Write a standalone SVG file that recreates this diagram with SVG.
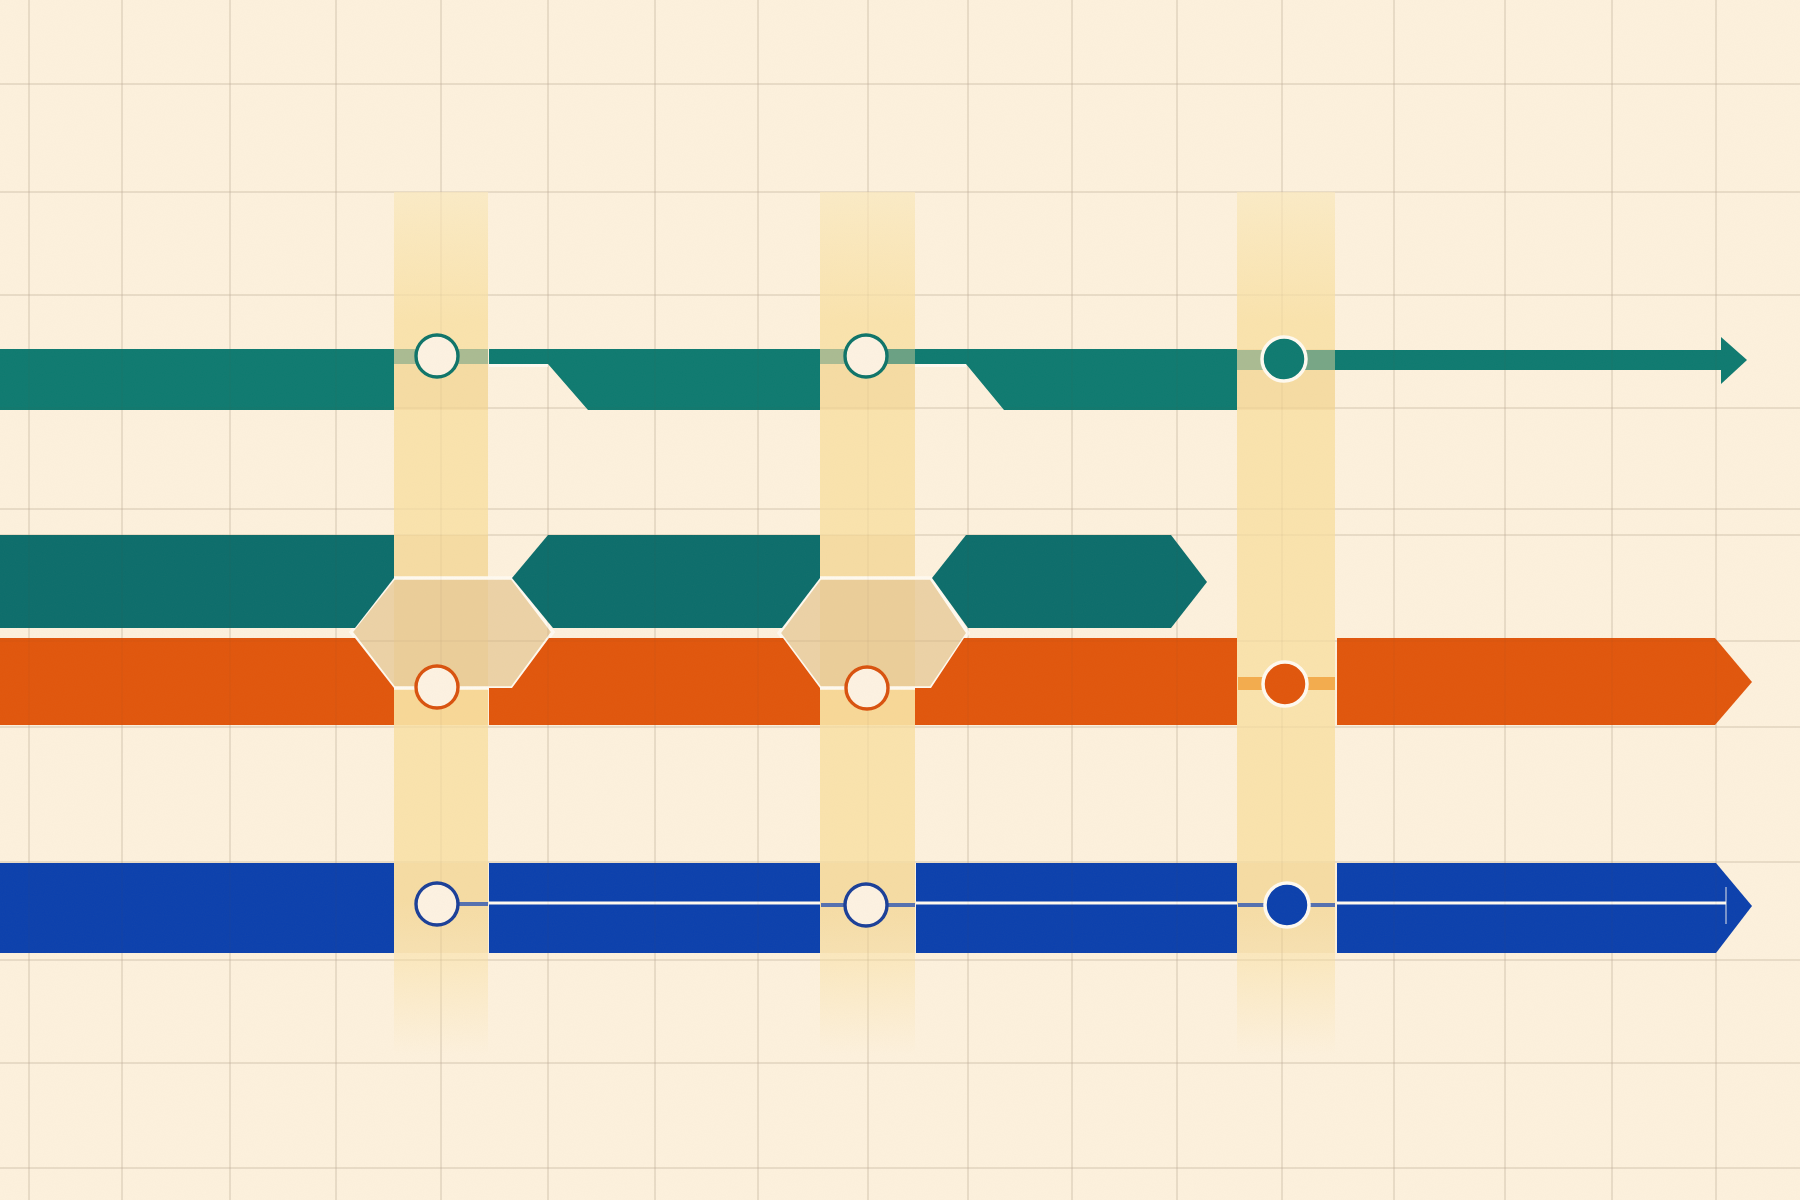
<svg xmlns="http://www.w3.org/2000/svg" width="1800" height="1200" viewBox="0 0 1800 1200">
<defs>
<style>
.grid{fill:none;stroke:#d6c8b4;stroke-width:1;opacity:0.75}
.gridTop{fill:none;stroke:#6b5a40;stroke-width:1;opacity:0.08}
.band{fill:url(#bandGrad)}
.ov{fill:#d9a24e;opacity:0.1}
.ovo{fill:#f6c066;opacity:0.3}
.teal{fill:#0e7a70}
.teal2{fill:#0c6d6b}
.orange{fill:#e1560c}
.blue{fill:#0b40ad}
.hex{fill:#e6c793;fill-opacity:0.75;stroke:#fffaf0;stroke-width:3.5;stroke-linejoin:miter}
.hollowT{fill:#fdf2e2;stroke:#0e7469;stroke-width:3.4}
.hollowO{fill:#fdf2e2;stroke:#d9520e;stroke-width:3.4}
.hollowB{fill:#fdf2e2;stroke:#1a3f98;stroke-width:3.4}
.solidT{fill:#0e7a70;stroke:#fffaf0;stroke-width:3.5}
.solidO{fill:#e1560c;stroke:#fffaf0;stroke-width:3.5}
.solidB{fill:#0b40ad;stroke:#fffaf0;stroke-width:3.5}
.wline{stroke:#fffaf0;stroke-width:3;fill:none}
.bline{stroke:#5470b0;stroke-width:4;fill:none}
</style>
<linearGradient id="bandGrad" x1="0" y1="192" x2="0" y2="1055" gradientUnits="userSpaceOnUse">
<stop offset="0" stop-color="#fbebc6"/>
<stop offset="0.15" stop-color="#fae3ad"/>
<stop offset="0.82" stop-color="#fae3ad"/>
<stop offset="1" stop-color="#fae3ad" stop-opacity="0"/>
</linearGradient>
<filter id="paper" x="0" y="0" width="100%" height="100%">
<feTurbulence type="fractalNoise" baseFrequency="0.9" numOctaves="2" seed="3" result="n"/>
<feColorMatrix type="matrix" values="0 0 0 0 0.45  0 0 0 0 0.38  0 0 0 0 0.28  0 0 0 0.04 0"/>
</filter>
<path id="gridPath" d="M29 0V1200M122 0V1200M230 0V1200M336 0V1200M441 0V1200M548 0V1200M655 0V1200M758 0V1200M868 0V1200M968 0V1200M1072 0V1200M1177 0V1200M1282 0V1200M1394 0V1200M1505 0V1200M1612 0V1200M1716 0V1200M0 84H1800M0 192H1800M0 295H1800M0 408H1800M0 509H1800M0 535H1800M0 641H1800M0 727H1800M0 862H1800M0 960H1800M0 1063H1800M0 1168H1800"/>
</defs>

<g id="background">
<rect x="0" y="0" width="1800" height="1200" fill="#fdf1dd"/>
<use href="#gridPath" class="grid"/>
</g>

<g id="bands">
<rect id="band1" class="band" x="394" y="192" width="94" height="863"/>
<rect id="band2" class="band" x="820" y="192" width="95" height="866"/>
<rect id="band3" class="band" x="1237" y="192" width="98" height="863"/>
<rect class="ov" x="394" y="349" width="94" height="61"/>
<rect class="ov" x="820" y="349" width="95" height="61"/>
<rect class="ov" x="1237" y="349" width="98" height="61"/>
<rect class="ov" x="394" y="535" width="94" height="43"/>
<rect class="ov" x="820" y="535" width="95" height="43"/>
<rect class="ovo" x="394" y="688" width="94" height="37"/>
<rect class="ovo" x="820" y="688" width="95" height="37"/>
<rect class="ov" x="394" y="863" width="94" height="90"/>
<rect class="ov" x="820" y="863" width="95" height="90"/>
<rect class="ov" x="1237" y="863" width="98" height="90"/>
</g>

<g id="hexes">
<polygon id="hex1" class="hex" points="351,632 394,578 512,578 553,632 512,688 394,688"/>
<polygon id="hex2" class="hex" points="779,633 820,578 931,578 968,633 931,688 820,688"/>
</g>

<g id="lane-teal-1">
<rect class="teal" x="0" y="349" width="394" height="61"/>
<polygon class="teal" points="489,349 820,349 820,410 588,410 548,364 489,364"/>
<polygon class="teal" points="915,349 1237,349 1237,410 1004,410 966,364 915,364"/>
<rect class="teal" x="1335" y="350" width="387" height="20"/>
<polygon class="teal" points="1721,337 1747,360 1721,384"/>
</g>

<g id="lane-teal-2">
<polygon class="teal2" points="0,535 394,535 394,578 355,628 0,628"/>
<polygon class="teal2" points="548,535 820,535 820,578 782,628 553,628 512,578"/>
<polygon class="teal2" points="966,535 1171,535 1207,582 1171,628 968,628 932,578"/>
</g>

<g id="lane-orange">
<polygon class="orange" points="0,638 355,638 394,688 394,725 0,725"/>
<polygon class="orange" points="549,638 783,638 820,688 820,725 489,725 489,688 512,688"/>
<polygon class="orange" points="964,638 1237,638 1237,725 915,725 915,688 931,688"/>
<polygon class="orange" points="1337,638 1715,638 1752,682 1715,725 1337,725"/>
</g>

<g id="lane-blue">
<rect class="blue" x="0" y="863" width="394" height="90"/>
<rect class="blue" x="489" y="863" width="331" height="90"/>
<rect class="blue" x="916" y="863" width="321" height="90"/>
<polygon class="blue" points="1337,863 1716,863 1752,906 1716,953 1337,953"/>
</g>

<g id="connectors">
<rect x="394" y="349" width="94" height="15" fill="#0e7a70" opacity="0.33"/>
<rect x="820" y="349" width="46" height="15" fill="#0e7a70" opacity="0.33"/>
<rect x="866" y="349" width="49" height="15" fill="#0e7a70" opacity="0.6"/>
<rect x="1237" y="350" width="48" height="20" fill="#0e7a70" opacity="0.33"/>
<rect x="1285" y="350" width="50" height="20" fill="#0e7a70" opacity="0.55"/>
<line class="wline" x1="489" y1="365.5" x2="548" y2="365.5" stroke-width="2.5"/>
<line class="wline" x1="915" y1="365.5" x2="966" y2="365.5" stroke-width="2.5"/>
<rect x="1238" y="677" width="97" height="13" fill="#f2a23c" opacity="0.85"/>
<line class="wline" x1="489" y1="903" x2="820" y2="903"/>
<line class="wline" x1="916" y1="903" x2="1237" y2="903"/>
<line class="wline" x1="1337" y1="903" x2="1726" y2="903"/>
<line x1="1726" y1="887" x2="1726" y2="924" stroke="#fffaf0" stroke-width="1.5" opacity="0.6"/>
<line class="bline" x1="455" y1="904" x2="488" y2="904" stroke="#2a4c9c"/>
<line class="bline" x1="821" y1="905" x2="846" y2="905"/>
<line class="bline" x1="886" y1="905" x2="915" y2="905"/>
<line class="bline" x1="1238" y1="905" x2="1266" y2="905"/>
<line class="bline" x1="1308" y1="905" x2="1335" y2="905"/>
</g>

<use href="#gridPath" class="gridTop"/>

<g id="node-t1"><circle class="hollowT" cx="437" cy="356" r="21"/></g>
<g id="node-t2"><circle class="hollowT" cx="866" cy="356" r="21"/></g>
<g id="node-t3"><circle class="solidT" cx="1284" cy="359" r="22"/></g>
<g id="node-o1"><circle class="hollowO" cx="437" cy="687" r="21"/></g>
<g id="node-o2"><circle class="hollowO" cx="867" cy="688" r="21"/></g>
<g id="node-o3"><circle class="solidO" cx="1285" cy="684" r="22"/></g>
<g id="node-b1"><circle class="hollowB" cx="437" cy="904" r="21"/></g>
<g id="node-b2"><circle class="hollowB" cx="866" cy="905" r="21"/></g>
<g id="node-b3"><circle class="solidB" cx="1287" cy="905" r="22"/></g>

<rect x="0" y="0" width="1800" height="1200" filter="url(#paper)" pointer-events="none"/>
</svg>
